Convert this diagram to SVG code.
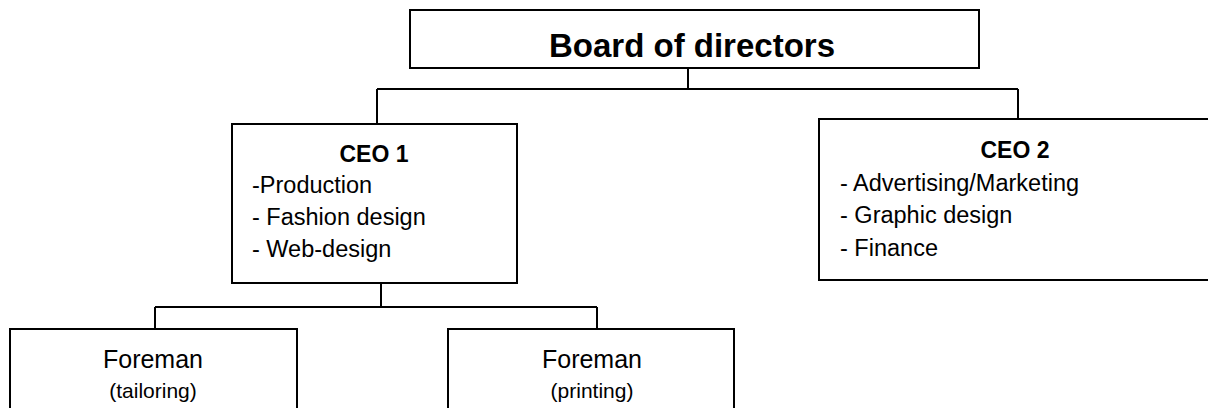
<svg xmlns="http://www.w3.org/2000/svg" width="1208" height="408" viewBox="0 0 1208 408">
<style>
.box{fill:#fff;stroke:#000;stroke-width:2}
.ln{stroke:#000;stroke-width:2;fill:none}
text{font-family:"Liberation Sans",Arial,sans-serif;fill:#000}
.t{font-size:33px;font-weight:bold;text-anchor:middle}
.h{font-size:23px;font-weight:bold;text-anchor:middle}
.i{font-size:23.5px}
.f{font-size:25px;text-anchor:middle}
.s{font-size:21px;text-anchor:middle}
</style>
<rect width="1208" height="408" fill="#fff"/>
<g id="connectors">
<path class="ln" d="M688 68V89M377 89H1018M377 89V124M1018 89V119"/>
<path class="ln" d="M381 283V307M155 307H597M155 307V329M597 307V329"/>
</g>
<g id="board">
<rect class="box" x="410" y="10" width="569" height="58"/>
<text class="t" x="692" y="57">Board of directors</text>
</g>
<g id="ceo1">
<rect class="box" x="232" y="124" width="285" height="159"/>
<text class="h" x="374" y="162">CEO 1</text>
<text class="i" x="252" y="193">-Production</text>
<text class="i" x="252" y="225">- Fashion design</text>
<text class="i" x="252" y="257">- Web-design</text>
</g>
<g id="ceo2">
<rect class="box" x="819" y="119" width="400" height="161"/>
<text class="h" x="1015" y="158">CEO 2</text>
<text class="i" x="840" y="191">- Advertising/Marketing</text>
<text class="i" x="840" y="223">- Graphic design</text>
<text class="i" x="840" y="256">- Finance</text>
</g>
<g id="foreman1">
<rect class="box" x="10" y="329" width="287" height="100"/>
<text class="f" x="153" y="368">Foreman</text>
<text class="s" x="153" y="398">(tailoring)</text>
</g>
<g id="foreman2">
<rect class="box" x="448" y="329" width="286" height="100"/>
<text class="f" x="592" y="368">Foreman</text>
<text class="s" x="592" y="398">(printing)</text>
</g>
</svg>
